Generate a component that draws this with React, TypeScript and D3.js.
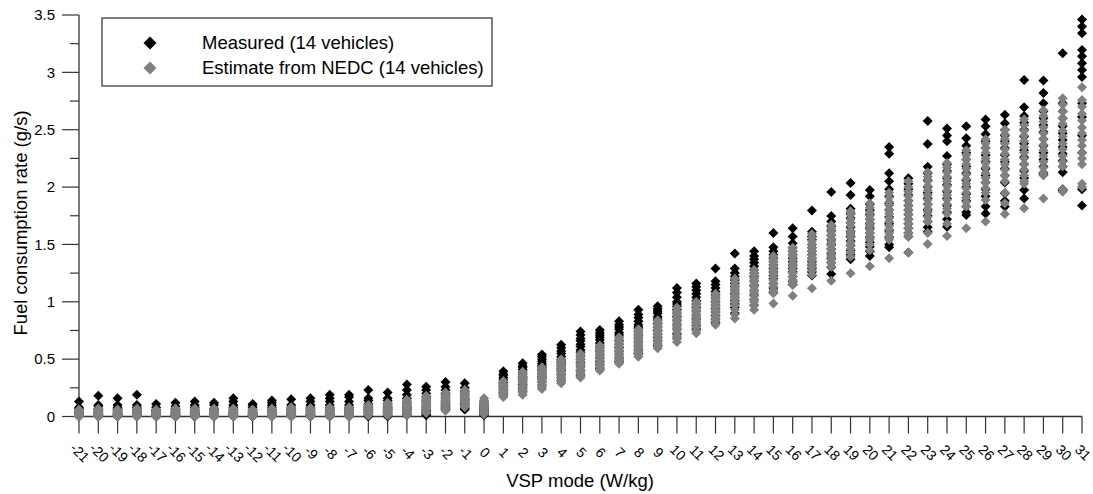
import React from "react";
import * as d3 from "d3";

const width = 1093;
const height = 494;

// VSP modes, -21 .. 31 W/kg
const vspModes = [
  -21, -20, -19, -18, -17, -16, -15, -14, -13, -12, -11, -10, -9, -8, -7, -6, -5, -4, -3, -2, -1,
  0, 1, 2, 3, 4, 5, 6, 7, 8, 9, 10, 11, 12, 13, 14, 15, 16, 17, 18, 19, 20, 21, 22, 23, 24, 25,
  26, 27, 28, 29, 30, 31,
];

// measured fuel rate (g/s), 14 vehicles per mode
const measured = [
  [0.13, 0.08, 0.07, 0.06, 0.05, 0.04, 0.04, 0.03, 0.03, 0.02, 0.02, 0.01, 0.01, 0.0],
  [0.18, 0.1, 0.09, 0.07, 0.06, 0.05, 0.04, 0.03, 0.03, 0.02, 0.02, 0.01, 0.01, 0.0],
  [0.16, 0.1, 0.08, 0.07, 0.06, 0.05, 0.04, 0.03, 0.03, 0.02, 0.02, 0.01, 0.01, 0.0],
  [0.19, 0.1, 0.08, 0.07, 0.06, 0.05, 0.04, 0.03, 0.03, 0.02, 0.02, 0.01, 0.01, 0.0],
  [0.11, 0.08, 0.06, 0.05, 0.05, 0.04, 0.03, 0.03, 0.02, 0.02, 0.01, 0.01, 0.0, 0.0],
  [0.12, 0.09, 0.07, 0.06, 0.05, 0.04, 0.03, 0.03, 0.02, 0.02, 0.01, 0.01, 0.0, 0.0],
  [0.13, 0.1, 0.08, 0.06, 0.05, 0.04, 0.03, 0.03, 0.02, 0.02, 0.01, 0.01, 0.0, 0.0],
  [0.12, 0.1, 0.07, 0.06, 0.05, 0.04, 0.03, 0.03, 0.02, 0.02, 0.01, 0.01, 0.0, 0.0],
  [0.16, 0.13, 0.1, 0.08, 0.06, 0.05, 0.04, 0.03, 0.03, 0.02, 0.02, 0.01, 0.01, 0.0],
  [0.11, 0.1, 0.08, 0.06, 0.05, 0.04, 0.03, 0.03, 0.02, 0.02, 0.01, 0.01, 0.0, 0.0],
  [0.14, 0.12, 0.1, 0.08, 0.06, 0.05, 0.04, 0.03, 0.03, 0.02, 0.02, 0.01, 0.01, 0.0],
  [0.15, 0.1, 0.08, 0.07, 0.06, 0.05, 0.04, 0.03, 0.03, 0.02, 0.02, 0.01, 0.01, 0.0],
  [0.16, 0.13, 0.1, 0.08, 0.07, 0.06, 0.05, 0.04, 0.03, 0.02, 0.02, 0.01, 0.01, 0.0],
  [0.19, 0.16, 0.13, 0.1, 0.08, 0.07, 0.06, 0.05, 0.04, 0.03, 0.02, 0.02, 0.01, 0.0],
  [0.19, 0.17, 0.13, 0.1, 0.08, 0.07, 0.06, 0.05, 0.04, 0.03, 0.02, 0.02, 0.01, 0.0],
  [0.23, 0.16, 0.14, 0.11, 0.09, 0.08, 0.07, 0.06, 0.05, 0.04, 0.03, 0.02, 0.01, 0.0],
  [0.21, 0.16, 0.14, 0.11, 0.09, 0.08, 0.07, 0.06, 0.05, 0.04, 0.03, 0.02, 0.01, 0.0],
  [0.28, 0.23, 0.19, 0.16, 0.13, 0.11, 0.09, 0.08, 0.07, 0.06, 0.05, 0.03, 0.02, 0.01],
  [0.26, 0.23, 0.2, 0.17, 0.14, 0.12, 0.1, 0.08, 0.06, 0.05, 0.04, 0.03, 0.02, 0.01],
  [0.3, 0.26, 0.23, 0.2, 0.18, 0.16, 0.14, 0.12, 0.11, 0.1, 0.09, 0.08, 0.07, 0.06],
  [0.29, 0.25, 0.22, 0.2, 0.18, 0.16, 0.15, 0.14, 0.12, 0.11, 0.1, 0.08, 0.07, 0.06],
  [0.13, 0.11, 0.1, 0.09, 0.08, 0.07, 0.06, 0.05, 0.04, 0.04, 0.03, 0.02, 0.02, 0.01],
  [0.395, 0.37, 0.36, 0.34, 0.32, 0.3, 0.29, 0.27, 0.26, 0.24, 0.23, 0.21, 0.2, 0.18],
  [0.465, 0.44, 0.43, 0.41, 0.39, 0.37, 0.35, 0.34, 0.32, 0.3, 0.28, 0.26, 0.24, 0.22],
  [0.54, 0.52, 0.5, 0.48, 0.46, 0.44, 0.43, 0.41, 0.39, 0.37, 0.35, 0.33, 0.3, 0.27],
  [0.625, 0.6, 0.57, 0.55, 0.52, 0.5, 0.48, 0.46, 0.44, 0.42, 0.4, 0.37, 0.34, 0.31],
  [0.74, 0.71, 0.68, 0.66, 0.63, 0.61, 0.58, 0.56, 0.53, 0.5, 0.47, 0.44, 0.4, 0.36],
  [0.755, 0.73, 0.71, 0.69, 0.67, 0.64, 0.62, 0.6, 0.57, 0.54, 0.51, 0.48, 0.45, 0.42],
  [0.83, 0.8, 0.78, 0.76, 0.73, 0.71, 0.69, 0.66, 0.63, 0.6, 0.57, 0.54, 0.51, 0.48],
  [0.93, 0.89, 0.86, 0.83, 0.8, 0.78, 0.765, 0.74, 0.71, 0.68, 0.65, 0.62, 0.58, 0.55],
  [0.96, 0.94, 0.92, 0.9, 0.87, 0.85, 0.84, 0.81, 0.78, 0.75, 0.72, 0.69, 0.66, 0.62],
  [1.12, 1.08, 1.04, 1.0, 0.98, 0.96, 0.93, 0.9, 0.87, 0.84, 0.8, 0.76, 0.72, 0.68],
  [1.16, 1.13, 1.1, 1.07, 1.04, 1.01, 0.98, 0.95, 0.92, 0.88, 0.85, 0.82, 0.79, 0.76],
  [1.29, 1.18, 1.15, 1.12, 1.09, 1.06, 1.03, 1.0, 0.97, 0.94, 0.91, 0.88, 0.85, 0.82],
  [1.42, 1.29, 1.25, 1.22, 1.19, 1.16, 1.13, 1.1, 1.07, 1.04, 1.01, 0.98, 0.95, 0.9],
  [1.44, 1.4, 1.37, 1.34, 1.31, 1.28, 1.25, 1.22, 1.18, 1.14, 1.1, 1.06, 1.02, 0.97],
  [1.6, 1.475, 1.44, 1.41, 1.38, 1.35, 1.32, 1.29, 1.26, 1.23, 1.2, 1.16, 1.12, 1.08],
  [1.64, 1.57, 1.51, 1.47, 1.44, 1.41, 1.38, 1.35, 1.32, 1.29, 1.26, 1.22, 1.18, 1.15],
  [1.795, 1.61, 1.57, 1.54, 1.5, 1.47, 1.44, 1.41, 1.38, 1.35, 1.32, 1.29, 1.26, 1.23],
  [1.957, 1.748, 1.7, 1.66, 1.62, 1.58, 1.54, 1.5, 1.46, 1.42, 1.38, 1.34, 1.3, 1.242],
  [2.035, 1.93, 1.81, 1.77, 1.73, 1.69, 1.65, 1.61, 1.57, 1.53, 1.49, 1.45, 1.41, 1.37],
  [1.975, 1.92, 1.85, 1.8, 1.76, 1.72, 1.68, 1.64, 1.6, 1.56, 1.52, 1.48, 1.44, 1.4],
  [2.35, 2.29, 2.12, 2.05, 1.98, 1.92, 1.86, 1.8, 1.74, 1.68, 1.62, 1.56, 1.5, 1.475],
  [2.077, 2.03, 1.98, 1.93, 1.88, 1.84, 1.8, 1.76, 1.72, 1.68, 1.64, 1.6, 1.57, 1.43],
  [2.576, 2.376, 2.178, 2.12, 2.06, 2.0, 1.95, 1.9, 1.85, 1.8, 1.75, 1.7, 1.65, 1.61],
  [2.51, 2.45, 2.4, 2.27, 2.2, 2.14, 2.08, 2.02, 1.96, 1.9, 1.84, 1.78, 1.72, 1.655],
  [2.53, 2.425, 2.36, 2.3, 2.24, 2.18, 2.12, 2.06, 2.0, 1.94, 1.88, 1.83, 1.78, 1.757],
  [2.59, 2.53, 2.46, 2.4, 2.34, 2.28, 2.22, 2.16, 2.1, 2.04, 1.98, 1.92, 1.83, 1.77],
  [2.63, 2.556, 2.5, 2.45, 2.4, 2.34, 2.28, 2.22, 2.16, 2.1, 2.04, 1.946, 1.88, 1.83],
  [2.934, 2.696, 2.62, 2.56, 2.5, 2.44, 2.38, 2.32, 2.26, 2.2, 2.14, 2.08, 1.975, 1.9],
  [2.928, 2.82, 2.73, 2.66, 2.6, 2.54, 2.48, 2.42, 2.36, 2.3, 2.24, 2.18, 2.12, 2.105],
  [3.166, 2.73, 2.66, 2.6, 2.53, 2.47, 2.41, 2.35, 2.29, 2.23, 2.18, 2.13, 1.98, 1.97],
  [3.46, 3.4, 3.34, 3.195, 3.14, 3.08, 3.02, 2.96, 2.73, 2.61, 2.45, 2.3, 1.98, 1.84],
];

// estimate from NEDC (g/s), 14 vehicles per mode
const estimated = [
  [0.06, 0.05, 0.05, 0.04, 0.04, 0.03, 0.03, 0.02, 0.02, 0.02, 0.01, 0.01, 0.0, 0.0],
  [0.07, 0.06, 0.05, 0.05, 0.04, 0.03, 0.03, 0.02, 0.02, 0.01, 0.01, 0.01, 0.0, 0.0],
  [0.06, 0.05, 0.05, 0.04, 0.04, 0.03, 0.03, 0.02, 0.02, 0.01, 0.01, 0.01, 0.0, 0.0],
  [0.07, 0.06, 0.05, 0.04, 0.04, 0.03, 0.03, 0.02, 0.02, 0.01, 0.01, 0.01, 0.0, 0.0],
  [0.06, 0.05, 0.04, 0.04, 0.03, 0.03, 0.02, 0.02, 0.02, 0.01, 0.01, 0.0, 0.0, 0.0],
  [0.07, 0.06, 0.05, 0.04, 0.04, 0.03, 0.03, 0.02, 0.02, 0.01, 0.01, 0.01, 0.0, 0.0],
  [0.07, 0.06, 0.05, 0.04, 0.04, 0.03, 0.03, 0.02, 0.02, 0.01, 0.01, 0.01, 0.0, 0.0],
  [0.07, 0.06, 0.05, 0.04, 0.04, 0.03, 0.03, 0.02, 0.02, 0.01, 0.01, 0.01, 0.0, 0.0],
  [0.07, 0.06, 0.05, 0.04, 0.04, 0.03, 0.03, 0.02, 0.02, 0.01, 0.01, 0.01, 0.0, 0.0],
  [0.06, 0.05, 0.05, 0.04, 0.04, 0.03, 0.03, 0.02, 0.02, 0.01, 0.01, 0.01, 0.0, 0.0],
  [0.07, 0.06, 0.05, 0.04, 0.04, 0.03, 0.03, 0.02, 0.02, 0.01, 0.01, 0.01, 0.0, 0.0],
  [0.08, 0.07, 0.06, 0.05, 0.04, 0.04, 0.03, 0.03, 0.02, 0.02, 0.01, 0.01, 0.0, 0.0],
  [0.075, 0.07, 0.06, 0.05, 0.04, 0.04, 0.03, 0.03, 0.02, 0.02, 0.01, 0.01, 0.0, 0.0],
  [0.08, 0.07, 0.06, 0.05, 0.04, 0.04, 0.03, 0.03, 0.02, 0.02, 0.01, 0.01, 0.0, 0.0],
  [0.08, 0.07, 0.06, 0.05, 0.05, 0.04, 0.03, 0.03, 0.02, 0.02, 0.01, 0.01, 0.0, 0.0],
  [0.1, 0.09, 0.08, 0.07, 0.06, 0.06, 0.05, 0.04, 0.04, 0.03, 0.02, 0.02, 0.01, 0.01],
  [0.12, 0.11, 0.1, 0.09, 0.08, 0.07, 0.06, 0.05, 0.04, 0.03, 0.03, 0.02, 0.01, 0.01],
  [0.145, 0.13, 0.12, 0.11, 0.1, 0.09, 0.08, 0.07, 0.06, 0.05, 0.04, 0.03, 0.02, 0.01],
  [0.18, 0.16, 0.15, 0.14, 0.13, 0.12, 0.11, 0.1, 0.09, 0.08, 0.07, 0.06, 0.04, 0.03],
  [0.21, 0.19, 0.18, 0.17, 0.16, 0.15, 0.14, 0.13, 0.12, 0.11, 0.1, 0.08, 0.07, 0.05],
  [0.23, 0.21, 0.2, 0.19, 0.18, 0.17, 0.16, 0.15, 0.14, 0.13, 0.12, 0.1, 0.09, 0.08],
  [0.16, 0.14, 0.13, 0.12, 0.11, 0.1, 0.09, 0.08, 0.07, 0.06, 0.05, 0.04, 0.03, 0.02],
  [0.31, 0.29, 0.28, 0.27, 0.26, 0.25, 0.24, 0.23, 0.22, 0.21, 0.2, 0.19, 0.18, 0.17],
  [0.39, 0.37, 0.35, 0.34, 0.33, 0.31, 0.3, 0.29, 0.27, 0.26, 0.24, 0.22, 0.21, 0.19],
  [0.43, 0.42, 0.4, 0.39, 0.37, 0.36, 0.34, 0.33, 0.31, 0.3, 0.28, 0.27, 0.25, 0.24],
  [0.5, 0.49, 0.47, 0.45, 0.44, 0.42, 0.41, 0.39, 0.37, 0.36, 0.34, 0.32, 0.31, 0.29],
  [0.55, 0.53, 0.51, 0.5, 0.48, 0.46, 0.45, 0.43, 0.41, 0.4, 0.38, 0.37, 0.35, 0.34],
  [0.62, 0.6, 0.58, 0.56, 0.54, 0.52, 0.51, 0.49, 0.47, 0.46, 0.44, 0.43, 0.41, 0.4],
  [0.69, 0.67, 0.65, 0.63, 0.61, 0.59, 0.57, 0.56, 0.54, 0.52, 0.5, 0.49, 0.47, 0.46],
  [0.76, 0.74, 0.72, 0.7, 0.68, 0.66, 0.64, 0.62, 0.6, 0.59, 0.57, 0.56, 0.54, 0.52],
  [0.84, 0.82, 0.8, 0.78, 0.76, 0.74, 0.72, 0.7, 0.68, 0.66, 0.64, 0.63, 0.61, 0.595],
  [0.95, 0.92, 0.9, 0.88, 0.86, 0.84, 0.82, 0.8, 0.78, 0.76, 0.73, 0.7, 0.68, 0.65],
  [1.0, 0.98, 0.96, 0.94, 0.92, 0.9, 0.88, 0.86, 0.84, 0.82, 0.8, 0.78, 0.75, 0.725],
  [1.07, 1.05, 1.03, 1.01, 0.99, 0.97, 0.95, 0.93, 0.91, 0.89, 0.87, 0.85, 0.83, 0.8],
  [1.2, 1.17, 1.14, 1.12, 1.1, 1.08, 1.06, 1.04, 1.02, 1.0, 0.97, 0.93, 0.89, 0.855],
  [1.28, 1.25, 1.23, 1.2, 1.18, 1.15, 1.13, 1.1, 1.08, 1.05, 1.02, 1.0, 0.97, 0.93],
  [1.4, 1.37, 1.35, 1.32, 1.3, 1.27, 1.25, 1.22, 1.19, 1.16, 1.13, 1.1, 1.075, 0.985],
  [1.47, 1.44, 1.41, 1.39, 1.36, 1.33, 1.31, 1.28, 1.25, 1.22, 1.19, 1.17, 1.146, 1.053],
  [1.59, 1.56, 1.53, 1.5, 1.47, 1.44, 1.41, 1.38, 1.36, 1.33, 1.3, 1.27, 1.235, 1.117],
  [1.67, 1.64, 1.61, 1.58, 1.55, 1.52, 1.49, 1.46, 1.43, 1.4, 1.37, 1.34, 1.306, 1.183],
  [1.79, 1.76, 1.72, 1.69, 1.66, 1.62, 1.59, 1.56, 1.52, 1.49, 1.46, 1.43, 1.393, 1.248],
  [1.86, 1.82, 1.78, 1.75, 1.72, 1.69, 1.66, 1.63, 1.6, 1.57, 1.54, 1.5, 1.45, 1.31],
  [1.95, 1.91, 1.87, 1.84, 1.8, 1.77, 1.73, 1.7, 1.66, 1.63, 1.6, 1.57, 1.54, 1.38],
  [2.05, 2.0, 1.96, 1.92, 1.88, 1.84, 1.8, 1.76, 1.72, 1.68, 1.64, 1.6, 1.57, 1.43],
  [2.13, 2.09, 2.05, 2.01, 1.97, 1.93, 1.89, 1.85, 1.81, 1.78, 1.74, 1.7, 1.6, 1.504],
  [2.21, 2.17, 2.13, 2.09, 2.05, 2.01, 1.97, 1.93, 1.89, 1.85, 1.81, 1.77, 1.68, 1.574],
  [2.32, 2.28, 2.24, 2.2, 2.16, 2.11, 2.07, 2.03, 1.99, 1.95, 1.91, 1.87, 1.83, 1.64],
  [2.417, 2.38, 2.34, 2.3, 2.25, 2.21, 2.17, 2.12, 2.08, 2.04, 1.99, 1.95, 1.887, 1.7],
  [2.5, 2.46, 2.42, 2.38, 2.33, 2.29, 2.24, 2.2, 2.15, 2.1, 2.05, 1.95, 1.86, 1.765],
  [2.59, 2.54, 2.49, 2.45, 2.4, 2.35, 2.3, 2.25, 2.2, 2.15, 2.1, 2.05, 2.03, 1.815],
  [2.67, 2.62, 2.57, 2.52, 2.47, 2.42, 2.37, 2.32, 2.27, 2.22, 2.17, 2.13, 2.105, 1.9],
  [2.774, 2.72, 2.66, 2.6, 2.55, 2.49, 2.44, 2.38, 2.33, 2.27, 2.22, 2.18, 1.98, 1.96],
  [2.87, 2.76, 2.7, 2.64, 2.58, 2.52, 2.47, 2.41, 2.36, 2.3, 2.25, 2.2, 2.03, 2.0],
];

const yTicks = [0, 0.5, 1, 1.5, 2, 2.5, 3, 3.5];
const yMinorTicks = [0.25, 0.75, 1.25, 1.75, 2.25, 2.75, 3.25];

const legendItems = [
  { label: "Measured (14 vehicles)", color: "#000000" },
  { label: "Estimate from NEDC (14 vehicles)", color: "#808080" },
];

const font = "'Liberation Sans', Arial, sans-serif";
const axisColor = "#333";

const App = () => {
  const x = d3.scalePoint<number>().domain(vspModes).range([79, 1082]);
  const y = d3.scaleLinear().domain([0, 3.5]).range([416.5, 15]);

  // rotated squares = diamonds
  const marker = d3.symbol(d3.symbolSquare, 50)()!;
  const legendMarker = d3.symbol(d3.symbolSquare, 84)()!;

  const points = (series: number[][]) =>
    series.flatMap((vals, i) => vals.map((v) => ({ mode: vspModes[i], v })));

  const y0 = y(0);

  return (
    <svg
      width={width}
      height={height}
      style={{ position: "absolute", left: 0, top: 0, background: "#fff" }}
      fontFamily={font}
    >
      {/* axes */}
      <line x1={x(-21)} x2={x(31)} y1={y0} y2={y0} stroke={axisColor} strokeWidth={1.3} />
      <line x1={x(-21)} x2={x(-21)} y1={y(3.5)} y2={y0} stroke={axisColor} strokeWidth={1.3} />

      {yTicks.map((t) => (
        <g key={"y" + t}>
          <line x1={62} x2={79} y1={y(t)} y2={y(t)} stroke={axisColor} strokeWidth={1.2} />
          <text x={55} y={y(t)} dy="0.35em" textAnchor="end" fontSize={15} fill="#000">
            {t}
          </text>
        </g>
      ))}
      {yMinorTicks.map((t) => (
        <line key={"ym" + t} x1={70} x2={79} y1={y(t)} y2={y(t)} stroke={axisColor} strokeWidth={1.2} />
      ))}

      {vspModes.map((m) => (
        <g key={"x" + m}>
          <line x1={x(m)} x2={x(m)} y1={y0} y2={y0 + 17} stroke={axisColor} strokeWidth={1.2} />
          <text
            transform={`translate(${x(m)! + 1},${y0 + 36}) rotate(45)`}
            textAnchor="middle"
            dominantBaseline="central"
            fontSize={14}
            fill="#000"
          >
            {m}
          </text>
        </g>
      ))}

      {/* points: measured first, estimate on top */}
      <g fill="#000000">
        {points(measured).map((p, i) => (
          <path key={"m" + i} d={marker} transform={`translate(${x(p.mode)},${y(p.v)}) rotate(45)`} />
        ))}
      </g>
      <g fill="#808080">
        {points(estimated).map((p, i) => (
          <path key={"e" + i} d={marker} transform={`translate(${x(p.mode)},${y(p.v)}) rotate(45)`} />
        ))}
      </g>

      {/* axis titles */}
      <text x={580} y={487} textAnchor="middle" fontSize={18.5} fill="#000">
        VSP mode (W/kg)
      </text>
      <text
        transform={`translate(27,223) rotate(-90)`}
        textAnchor="middle"
        fontSize={18.5}
        fill="#000"
      >
        Fuel consumption rate (g/s)
      </text>

      {/* legend */}
      <rect x={102} y={18} width={390} height={68} fill="#fff" stroke="#000" strokeWidth={1} />
      {legendItems.map((item, i) => (
        <g key={item.label} transform={`translate(0,${43 + i * 25})`}>
          <path d={legendMarker} transform="translate(150,0) rotate(45)" fill={item.color} />
          <text x={202} y={0} dy="0.35em" fontSize={18.5} fill="#000">
            {item.label}
          </text>
        </g>
      ))}
    </svg>
  );
};

export default App;
